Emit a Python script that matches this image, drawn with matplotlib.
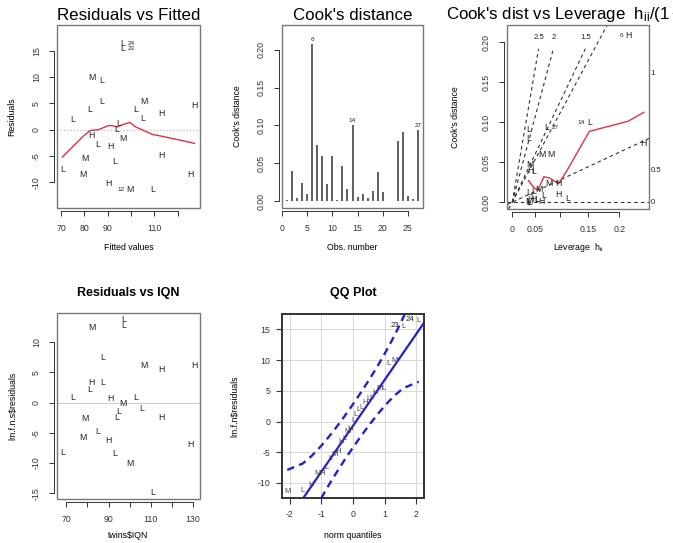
import matplotlib
matplotlib.use('Agg')
import matplotlib.pyplot as plt
from matplotlib.patches import Rectangle

plt.rcParams['font.family'] = ['Liberation Sans', 'DejaVu Sans']
plt.rcParams['mathtext.fontset'] = 'custom'
plt.rcParams['mathtext.rm'] = 'Liberation Sans'
plt.rcParams['mathtext.it'] = 'Liberation Sans'
plt.rcParams['mathtext.default'] = 'regular'
plt.rcParams['axes.unicode_minus'] = False

# ---------------- data (27 twin pairs) ----------------
social = list("HHHHHHHMMMMMMLLLLLLLLLLLLLL")
iqn = [82, 90, 91, 115, 115, 129, 131, 78, 79, 82, 97, 100, 107, 68, 73, 81, 85,
       87, 87, 93, 94, 95, 97, 97, 103, 106, 111]
fitted = [83.1, 90.3, 91.2, 112.9, 112.9, 125.5, 127.3, 79.5, 80.4, 83.1, 96.6, 99.4,
          105.7, 70.5, 75.0, 82.2, 85.8, 87.6, 87.6, 93.0, 93.9, 94.8, 96.6, 96.6,
          102.1, 104.8, 109.3]
resid = [-1.1, -10.3, -3.2, -4.9, 3.1, -8.5, 4.7, -8.5, -5.4, 9.9, -1.6, -11.4, 5.3,
         -7.5, 2.0, 3.8, -2.8, 5.4, 9.4, -6.0, 0.1, 1.2, 15.4, 16.4, 3.9, 2.2, -11.3]
cook = [0.001, 0.040, 0.004, 0.024, 0.010, 0.208, 0.074, 0.060, 0.023, 0.060, 0.001,
        0.047, 0.016, 0.100, 0.005, 0.009, 0.004, 0.013, 0.039, 0.012, 0.000, 0.000,
        0.080, 0.091, 0.007, 0.003, 0.094]
lev_ratio = [0.069, 0.043, 0.042, 0.108, 0.108, 0.271, 0.307, 0.091, 0.085, 0.069,
             0.039, 0.042, 0.062, 0.180, 0.129, 0.074, 0.057, 0.050, 0.050, 0.039,
             0.039, 0.038, 0.039, 0.039, 0.048, 0.058, 0.081]
resid_social = [3.4, -6.3, 0.7, -2.5, 5.5, -7.0, 6.1, -5.8, -2.7, 12.4, -0.1, -10.0,
                6.2, -8.3, 0.9, 2.2, -4.7, 3.4, 7.4, -8.4, -2.4, -1.4, 12.7, 13.7,
                0.9, -1.0, -14.8]
smooth1_x = [70.5, 75.0, 79.5, 80.4, 82.2, 83.1, 83.1, 85.8, 87.6, 87.6, 90.3, 91.2,
             93.0, 93.9, 94.8, 96.6, 96.6, 96.6, 99.4, 102.1, 104.8, 105.7, 109.3,
             112.9, 112.9, 125.5, 127.3]
smooth1_y = [-5.2, -3.2, -1.2, -0.9, -0.2, -0.1, -0.1, 0.0, 0.3, 0.3, 0.8, 0.8, 0.7,
             0.5, 0.7, 1.0, 1.0, 1.0, 1.4, 0.5, 0.0, -0.2, -0.9, -1.2, -1.2, -2.4, -2.6]
smooth3_x = [0.038, 0.039, 0.039, 0.039, 0.039, 0.039, 0.042, 0.042, 0.043, 0.048,
             0.050, 0.050, 0.057, 0.058, 0.062, 0.069, 0.069, 0.074, 0.081, 0.085,
             0.091, 0.108, 0.108, 0.129, 0.180, 0.271, 0.307]
smooth3_y = [0.0269, 0.0267, 0.0266, 0.0266, 0.0266, 0.0263, 0.0247, 0.0242, 0.0235,
             0.0199, 0.0188, 0.0188, 0.0155, 0.0165, 0.0176, 0.0261, 0.0261, 0.0319,
             0.0310, 0.0307, 0.0291, 0.0230, 0.0230, 0.0407, 0.0886, 0.1014, 0.1124]
qq_z = [-2.085, -1.593, -1.325, -1.128, -0.967, -0.828, -0.704, -0.589, -0.482, -0.380,
        -0.282, -0.187, -0.093, 0.000, 0.093, 0.187, 0.282, 0.380, 0.482, 0.589, 0.704,
        0.828, 0.967, 1.128, 1.325, 1.593, 2.085]
qq_order = [12, 27, 2, 8, 6, 14, 20, 9, 4, 3, 17, 11, 1, 21, 22, 15, 26, 5, 16, 25, 7,
            13, 18, 19, 10, 23, 24]
qq_upper = [-7.89, -6.84, -5.67, -4.64, -3.72, -2.88, -2.09, -1.34, -0.62, 0.08, 0.77,
            1.45, 2.13, 2.82, 3.52, 4.24, 4.98, 5.75, 6.57, 7.45, 8.40, 9.47, 10.70,
            12.18, 14.09, 16.92, 23.20]
qq_lower = [-24.61, -18.32, -15.49, -13.59, -12.11, -10.88, -9.81, -8.85, -7.98, -7.16,
            -6.38, -5.64, -4.93, -4.23, -3.54, -2.86, -2.18, -1.49, -0.79, -0.07, 0.68,
            1.47, 2.31, 3.23, 4.26, 5.43, 6.48]
qq_intercept, qq_slope = -0.703, 7.454
contour_levels = [0, 0.5, 1, 1.5, 2, 2.5]
n_params = 2

# ---------------- layout helpers ----------------
W, H = 673, 543
fig = plt.figure(figsize=(6.73, 5.43), dpi=100)

def add_ax(l, r, t, b):
    return fig.add_axes([l / W, 1 - b / H, (r - l) / W, (b - t) / H])

def ftext(x, y, s, **kw):
    fig.text(x / W, 1 - y / H, s, **kw)

TICK = 6.3
LETTER = 6.3
IDSZ = 4.6
TITLE = 12.2
REDC = '#DD3344'
TXTC = '#222222'

def r_axes(ax, xt, xl, yt, yl):
    for s in ['top', 'right']:
        ax.spines[s].set_visible(False)
    for s in ['left', 'bottom']:
        ax.spines[s].set_position(('outward', 2.5))
        ax.spines[s].set_linewidth(0.7)
        ax.spines[s].set_color('#333333')
    ax.spines['bottom'].set_bounds(xt[0], xt[-1])
    ax.spines['left'].set_bounds(yt[0], yt[-1])
    ax.add_patch(Rectangle((0, 0), 1, 1, transform=ax.transAxes, fill=False,
                           ec='#777777', lw=1.0, clip_on=False, zorder=6))
    ax.set_xticks(xt)
    ax.set_xticklabels(xl)
    ax.set_yticks(yt)
    ax.set_yticklabels(yl, rotation=90, va='center')
    ax.tick_params(direction='out', length=3.5, width=0.7, colors='#333333',
                   labelsize=TICK, pad=5.5)

def id_label(ax, x, y, s, pos):
    dx = {2: -3.5, 4: 3.5}[pos]
    ax.annotate(s, (x, y), xytext=(dx, 0), textcoords='offset points',
                ha='right' if pos == 2 else 'left', va='center',
                fontsize=IDSZ, color=TXTC, annotation_clip=False)

# ---------------- Panel 1: Residuals vs Fitted ----------------
ax1 = add_ax(57, 200, 25, 208)
ax1.set_xlim(68.2, 129.6)
ax1.set_ylim(-14.86, 19.9)
ax1.axhline(0, color='#bbbbbb', ls=':', lw=0.9, zorder=1)
ax1.plot(smooth1_x, smooth1_y, color=REDC, lw=1.0, zorder=3)
for xv, yv, c in zip(fitted, resid, social):
    ax1.text(xv, yv, c, ha='center', va='center', fontsize=LETTER, color=TXTC, zorder=4)
mean_x1 = (min(fitted) + max(fitted)) / 2
for i in [24, 23, 12]:
    id_label(ax1, fitted[i - 1], resid[i - 1], str(i), 2 if fitted[i - 1] > mean_x1 else 4)
r_axes(ax1, [70, 80, 90, 100, 110, 120], ['70', '80', '90', '', '110', ''],
       [-10, -5, 0, 5, 10, 15], ['-10', '-5', '0', '5', '10', '15'])
ftext(128.5, 15, 'Residuals vs Fitted', ha='center', va='center', fontsize=TITLE)
ftext(128.5, 248, 'Fitted values', ha='center', va='center', fontsize=TICK)
ftext(12, 116.5, 'Residuals', ha='center', va='center', rotation=90, fontsize=TICK)

# ---------------- Panel 2: Cook's distance ----------------
ax2 = add_ax(282, 423, 25, 208)
obs = list(range(1, len(cook) + 1))
ax2.set_xlim(-0.04, 28.04)
ax2.set_ylim(-0.0089, 0.2326)
ax2.vlines(obs, 0, cook, color='#333333', lw=1.1)
for i in [6, 14, 27]:
    ax2.annotate(str(i), (i, cook[i - 1]), xytext=(0, 1.5), textcoords='offset points',
                 ha='center', va='bottom', fontsize=IDSZ, color=TXTC)
r_axes(ax2, [0, 5, 10, 15, 20, 25], ['0', '5', '10', '15', '20', '25'],
       [0, 0.05, 0.10, 0.15, 0.20], ['0.00', '0.05', '0.10', '0.15', '0.20'])
ftext(352.5, 15, "Cook's distance", ha='center', va='center', fontsize=TITLE)
ftext(352.5, 248, 'Obs. number', ha='center', va='center', fontsize=TICK)
ftext(237, 116.5, "Cook's distance", ha='center', va='center', rotation=90, fontsize=TICK)

# ---------------- Panel 3: Cook's dist vs Leverage ----------------
ax3 = add_ax(507, 649, 25, 209)
xmax3, ymax3 = 0.3193, 0.2217
ax3.set_xlim(-0.0123, xmax3)
ax3.set_ylim(-0.0085, ymax3)
sh = 0.0198  # height of one text line in data units
dash = (0, (3.2, 2.8))
for b in contour_levels:
    bi2 = b * b
    if n_params * ymax3 > bi2 * xmax3:
        ax3.axline((0, 0), slope=bi2, color='#333333', ls=dash, lw=0.8, zorder=2)
        xi = xmax3 + 0.003
        yi = bi2 * xi / n_params
        ax3.text(xi, yi, f'{b:g}', ha='left', va='center', fontsize=5.6,
                 color=TXTC, clip_on=False)
    else:
        yi = ymax3 - 1.5 * sh
        xi = n_params * yi / bi2
        ax3.plot([0, xi], [0, yi], color='#333333', ls=dash, lw=0.8, zorder=2)
        ax3.text(xi, ymax3 - 0.8 * sh, f'{b:g}', ha='center', va='center',
                 fontsize=5.6, color=TXTC)
ax3.plot(smooth3_x, smooth3_y, color=REDC, lw=1.0, zorder=3)
for xv, yv, c in zip(lev_ratio, cook, social):
    ax3.text(xv, yv, c, ha='center', va='center', fontsize=LETTER, color=TXTC, zorder=4)
mean_x3 = (min(lev_ratio) + max(lev_ratio)) / 2
for i in [6, 14, 27]:
    id_label(ax3, lev_ratio[i - 1], cook[i - 1], str(i),
             2 if lev_ratio[i - 1] > mean_x3 else 4)
lev_ticks = [0, 0.05, 0.1, 0.15, 0.2]
r_axes(ax3, [h / (1 - h) for h in lev_ticks], ['0', '0.05', '', '0.15', '0.2'],
       [0, 0.05, 0.10, 0.15, 0.20], ['0.00', '0.05', '0.10', '0.15', '0.20'])
ftext(446, 15, r"Cook's dist vs Leverage  $\mathrm{h}_{\mathrm{ii}}/(1-\mathrm{h}_{\mathrm{ii}})$",
      ha='left', va='center', fontsize=TITLE)
ftext(578, 248, r'Leverage  $\mathrm{h}_{\mathrm{ii}}$', ha='center', va='center', fontsize=TICK)
ftext(455, 117, "Cook's distance", ha='center', va='center', rotation=90, fontsize=TICK)

# ---------------- Panel 4: Residuals vs IQN ----------------
ax4 = add_ax(57, 200, 313, 499)
ax4.set_xlim(65.5, 133.5)
ax4.set_ylim(-15.94, 14.84)
ax4.axhline(0, color='#cccccc', lw=0.8, zorder=1)
for xv, yv, c in zip(iqn, resid_social, social):
    ax4.text(xv, yv, c, ha='center', va='center', fontsize=LETTER, color=TXTC, zorder=4)
r_axes(ax4, [70, 80, 90, 100, 110, 120, 130], ['70', '', '90', '', '110', '', '130'],
       [-15, -10, -5, 0, 5, 10], ['-15', '-10', '-5', '0', '5', '10'])
ftext(128.5, 292.7, 'Residuals vs IQN', ha='center', va='center', fontsize=9,
      fontweight='bold')
ftext(128.5, 536, r'twins\$IQN', ha='center', va='center', fontsize=TICK)
ftext(13, 406, r'lm.f.n.s\$residuals', ha='center', va='center', rotation=90,
      fontsize=TICK)

# ---------------- Panel 5: QQ Plot ----------------
ax5 = add_ax(282, 424, 314, 498)
ax5.set_xlim(-2.252, 2.252)
ax5.set_ylim(-12.46, 17.51)
ax5.set_xticks([-2, -1, 0, 1, 2])
ax5.set_yticks([-10, -5, 0, 5, 10, 15])
ax5.grid(True, color='#d8d8d8', lw=0.7, zorder=0)
BLUE = '#2222CC'
ax5.axline((0, qq_intercept), slope=qq_slope, color=BLUE, lw=1.6, zorder=3)
ax5.plot(qq_z, qq_upper, color=BLUE, lw=1.7, ls=(0, (3.2, 2.2)), zorder=3)
ax5.plot(qq_z, qq_lower, color=BLUE, lw=1.7, ls=(0, (3.2, 2.2)), zorder=3)
qq_vals = [resid[i - 1] for i in qq_order]
for zv, yv, i in zip(qq_z, qq_vals, qq_order):
    ax5.text(zv, yv, social[i - 1], ha='center', va='center', fontsize=5.4,
             color='#444444', zorder=4)
for k in [26, 25]:
    ax5.annotate(str(qq_order[k]), (qq_z[k], qq_vals[k]), xytext=(-2.8, 0.8),
                 textcoords='offset points', ha='right', va='center',
                 fontsize=5.6, color=TXTC)
for s in ax5.spines.values():
    s.set_linewidth(1.4)
    s.set_color('#333333')
ax5.tick_params(direction='out', length=4.5, width=0.8, colors='#333333',
                labelsize=TICK, pad=4)
ax5.set_axisbelow(True)
ftext(353, 292.7, 'QQ Plot', ha='center', va='center', fontsize=9, fontweight='bold')
ftext(353, 536, 'norm quantiles', ha='center', va='center', fontsize=TICK)
ftext(235, 406, r'lm.f.n\$residuals', ha='center', va='center', rotation=90,
      fontsize=TICK)

fig.savefig('out.png', dpi=100)
